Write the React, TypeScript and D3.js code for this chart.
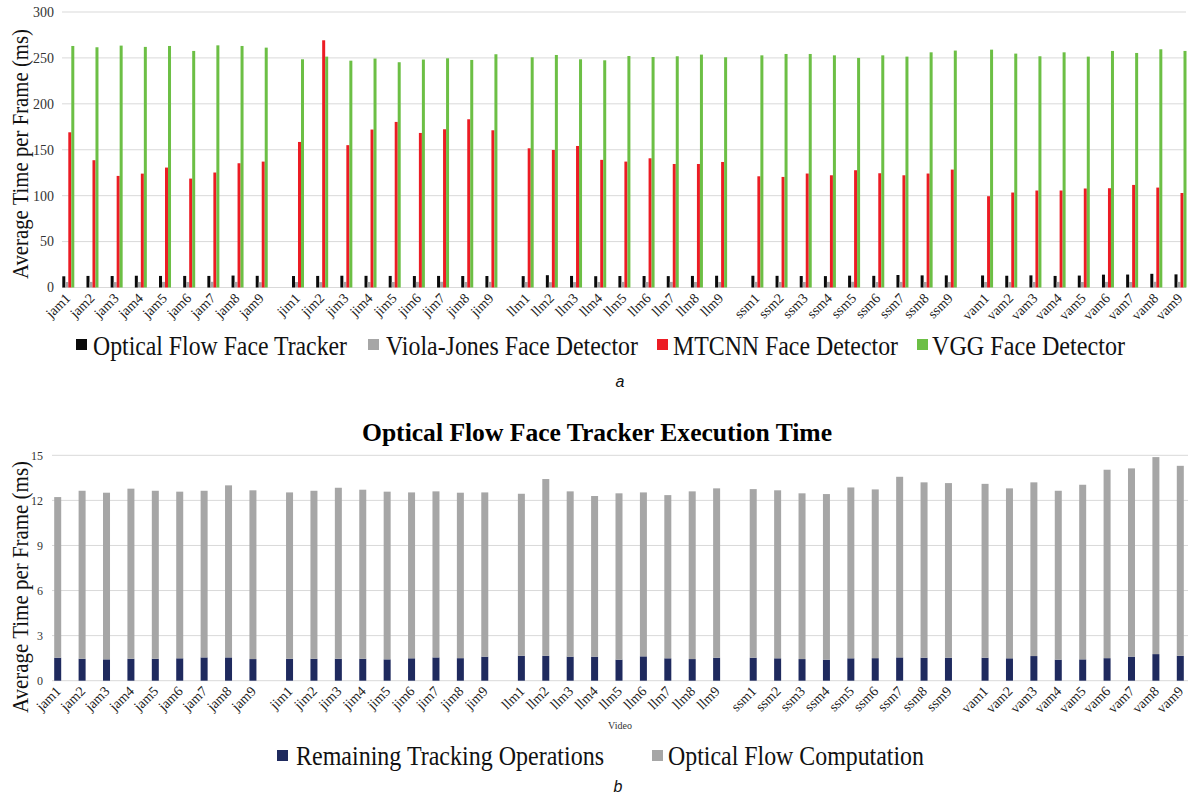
import React from "react";
import * as d3 from "d3";

// Video clips (5 groups of 9)
const videos = [
  "jam1", "jam2", "jam3", "jam4", "jam5", "jam6", "jam7", "jam8", "jam9",
  "jim1", "jim2", "jim3", "jim4", "jim5", "jim6", "jim7", "jim8", "jim9",
  "llm1", "llm2", "llm3", "llm4", "llm5", "llm6", "llm7", "llm8", "llm9",
  "ssm1", "ssm2", "ssm3", "ssm4", "ssm5", "ssm6", "ssm7", "ssm8", "ssm9",
  "vam1", "vam2", "vam3", "vam4", "vam5", "vam6", "vam7", "vam8", "vam9",
];

// chart a: average time per frame (ms)
const opticalFlowTracker = [
  12.2, 12.6, 12.5, 12.8, 12.6, 12.6, 12.6, 13.0, 12.7,
  12.5, 12.6, 12.8, 12.7, 12.6, 12.5, 12.6, 12.5, 12.5,
  12.4, 13.4, 12.6, 12.3, 12.5, 12.5, 12.4, 12.6, 12.8,
  12.8, 12.7, 12.5, 12.4, 12.9, 12.7, 13.6, 13.2, 13.2,
  13.1, 12.8, 13.2, 12.6, 13.0, 14.0, 14.1, 14.9, 14.3,
];
const violaJones = [
  6.0, 6.1, 5.9, 6.0, 6.1, 6.0, 6.2, 6.1, 5.8,
  6.0, 5.9, 6.1, 6.0, 6.0, 6.1, 6.2, 6.0, 6.1,
  6.0, 5.8, 5.9, 6.0, 6.1, 6.0, 6.1, 6.0, 6.0,
  6.1, 6.0, 6.0, 6.1, 6.2, 6.0, 6.1, 6.0, 6.0,
  6.0, 5.9, 6.0, 6.1, 6.0, 6.1, 6.0, 6.2, 6.1,
];
const mtcnn = [
  169.0, 138.6, 121.5, 124.0, 130.6, 118.6, 125.2, 135.3, 137.1,
  158.5, 269.2, 155.0, 172.0, 180.3, 168.3, 172.3, 183.2, 171.2,
  151.6, 149.8, 154.1, 139.0, 137.1, 140.7, 134.5, 134.5, 136.7,
  121.1, 120.4, 124.1, 122.2, 127.7, 124.4, 122.2, 124.1, 128.4,
  99.4, 103.4, 105.6, 105.6, 107.8, 108.1, 111.7, 108.8, 102.9,
];
const vgg = [
  263.0, 261.6, 263.4, 262.0, 263.0, 257.6, 263.7, 263.0, 261.2,
  248.5, 251.4, 247.0, 249.3, 245.3, 248.2, 249.6, 247.8, 254.0,
  250.7, 253.2, 248.5, 247.4, 252.1, 251.0, 251.8, 253.6, 250.7,
  252.8, 254.3, 254.3, 252.8, 250.0, 252.8, 251.4, 256.1, 258.0,
  259.0, 254.7, 251.8, 256.1, 251.4, 257.6, 255.4, 259.4, 257.6,
];
const topTicks = [0, 50, 100, 150, 200, 250, 300];

// chart b: optical flow face tracker breakdown (ms)
const remainingOps = [
  1.53, 1.46, 1.42, 1.46, 1.46, 1.49, 1.55, 1.55, 1.44,
  1.46, 1.46, 1.46, 1.46, 1.42, 1.49, 1.55, 1.50, 1.60,
  1.66, 1.66, 1.60, 1.60, 1.40, 1.62, 1.49, 1.44, 1.53,
  1.53, 1.49, 1.44, 1.40, 1.49, 1.50, 1.55, 1.53, 1.53,
  1.53, 1.49, 1.64, 1.40, 1.42, 1.50, 1.60, 1.77, 1.66,
];
const flowComputation = [
  10.69, 11.18, 11.09, 11.32, 11.18, 11.09, 11.09, 11.45, 11.23,
  11.07, 11.18, 11.38, 11.25, 11.16, 11.04, 11.05, 11.01, 10.93,
  10.78, 11.76, 11.00, 10.69, 11.07, 10.91, 10.86, 11.16, 11.27,
  11.22, 11.18, 11.03, 11.02, 11.37, 11.23, 12.02, 11.67, 11.62,
  11.57, 11.31, 11.56, 11.24, 11.62, 12.54, 12.53, 13.11, 12.64,
];
const bottomTicks = [0, 3, 6, 9, 12, 15];

const topSeries = [
  { name: "Optical Flow Face Tracker", color: "#0a0a0a", values: opticalFlowTracker },
  { name: "Viola-Jones Face Detector", color: "#a6a6a6", values: violaJones },
  { name: "MTCNN Face Detector", color: "#ec1c24", values: mtcnn },
  { name: "VGG Face Detector", color: "#6cbf45", values: vgg },
];

const serif = "'Liberation Serif', 'Times New Roman', serif";
const sans = "'Liberation Sans', Arial, sans-serif";
const GRID = "#d9d9d9";
const GROUP_GAP = 0.5; // extra slot between video groups

const slot = (i: number) => i + Math.floor(i / 9) * GROUP_GAP;
const lastSlot = slot(videos.length - 1);

function ChartA() {
  const x = d3.scaleLinear().domain([0, lastSlot]).range([68.3, 1180.5]);
  const y = d3.scaleLinear().domain([0, 300]).range([287.5, 12]);
  const barW = 3;

  return (
    <g>
      {topTicks.map(t => (
        <g key={t}>
          <line x1={62} x2={1186} y1={y(t)} y2={y(t)} stroke={GRID} strokeWidth={1} />
          <text x={54} y={y(t)} dy="0.35em" textAnchor="end" fontSize={14} fontFamily={serif} fill="#333">{t}</text>
        </g>
      ))}
      {topSeries.map((s, k) => (
        <g key={s.name} fill={s.color}>
          {s.values.map((v, i) => (
            <rect key={i} x={x(slot(i)) - 6 + k * barW} width={barW} y={y(v)} height={y(0) - y(v)} />
          ))}
        </g>
      ))}
      {videos.map((v, i) => (
        <text key={v} transform={`translate(${x(slot(i)) + 3},${299}) rotate(-45)`} textAnchor="end"
          fontSize={14} fontFamily={serif} fill="#222">{v}</text>
      ))}
      <text transform="translate(28,154) rotate(-90)" textAnchor="middle" fontSize={23} fontFamily={serif}
        fill="#111" textLength={250} lengthAdjust="spacingAndGlyphs">Average Time per Frame (ms)</text>
      {/* legend */}
      {[{ sx: 76, tx: 93, w: 254 }, { sx: 368, tx: 386, w: 252 }, { sx: 657, tx: 673, w: 225 }, { sx: 917, tx: 932, w: 193 }].map((p, k) => (
        <g key={k}>
          <rect x={p.sx} y={339} width={11} height={11} fill={topSeries[k].color} />
          <text x={p.tx} y={355} fontSize={27} fontFamily={serif} fill="#111" textLength={p.w}
            lengthAdjust="spacingAndGlyphs">{topSeries[k].name}</text>
        </g>
      ))}
      <text x={620} y={387} textAnchor="middle" fontSize={16} fontStyle="italic" fontFamily={sans} fill="#111">a</text>
    </g>
  );
}

function ChartB() {
  const rows = videos.map((v, i) => ({ video: v, remaining: remainingOps[i], flow: flowComputation[i] }));
  const stack = d3.stack<any>().keys(["remaining", "flow"])(rows);
  const colors: Record<string, string> = { remaining: "#1f2a5e", flow: "#a6a6a6" };
  const x = d3.scaleLinear().domain([0, lastSlot]).range([57.7, 1180.3]);
  const y = d3.scaleLinear().domain([0, 15]).range([680.7, 455.3]);
  const barW = 7;

  return (
    <g>
      <text x={597} y={441} textAnchor="middle" fontSize={25} fontWeight="bold" fontFamily={serif} fill="#000"
        textLength={470} lengthAdjust="spacingAndGlyphs">
        Optical Flow Face Tracker Execution Time
      </text>
      {bottomTicks.map(t => (
        <g key={t}>
          <line x1={52} x2={1188} y1={y(t)} y2={y(t)} stroke={GRID} strokeWidth={1} />
          <text x={43} y={y(t)} dy="0.35em" textAnchor="end" fontSize={12} fontFamily={serif} fill="#333">{t}</text>
        </g>
      ))}
      {stack.map(layer => (
        <g key={layer.key} fill={colors[layer.key]}>
          {layer.map((d, i) => (
            <rect key={i} x={x(slot(i)) - barW / 2} width={barW} y={y(d[1])} height={y(d[0]) - y(d[1])} />
          ))}
        </g>
      ))}
      {videos.map((v, i) => (
        <text key={v} transform={`translate(${x(slot(i)) + 4},${692}) rotate(-45)`} textAnchor="end"
          fontSize={14} fontFamily={serif} fill="#222">{v}</text>
      ))}
      <text x={620} y={729} textAnchor="middle" fontSize={10} fontFamily={serif} fill="#333">Video</text>
      <text transform="translate(28,587) rotate(-90)" textAnchor="middle" fontSize={23} fontFamily={serif}
        fill="#111" textLength={252} lengthAdjust="spacingAndGlyphs">Average Time per Frame (ms)</text>
      <rect x={277} y={750} width={11} height={11} fill={colors.remaining} />
      <text x={296} y={765} fontSize={27} fontFamily={serif} fill="#111" textLength={308}
        lengthAdjust="spacingAndGlyphs">Remaining Tracking Operations</text>
      <rect x={652} y={750} width={11} height={11} fill={colors.flow} />
      <text x={668} y={765} fontSize={27} fontFamily={serif} fill="#111" textLength={256}
        lengthAdjust="spacingAndGlyphs">Optical Flow Computation</text>
      <text x={618} y={792} textAnchor="middle" fontSize={16} fontStyle="italic" fontFamily={sans} fill="#111">b</text>
    </g>
  );
}

export default function App() {
  return (
    <svg width={1192} height={796} style={{ position: "absolute", left: 0, top: 0, background: "#fff" }}>
      <ChartA />
      <ChartB />
    </svg>
  );
}
